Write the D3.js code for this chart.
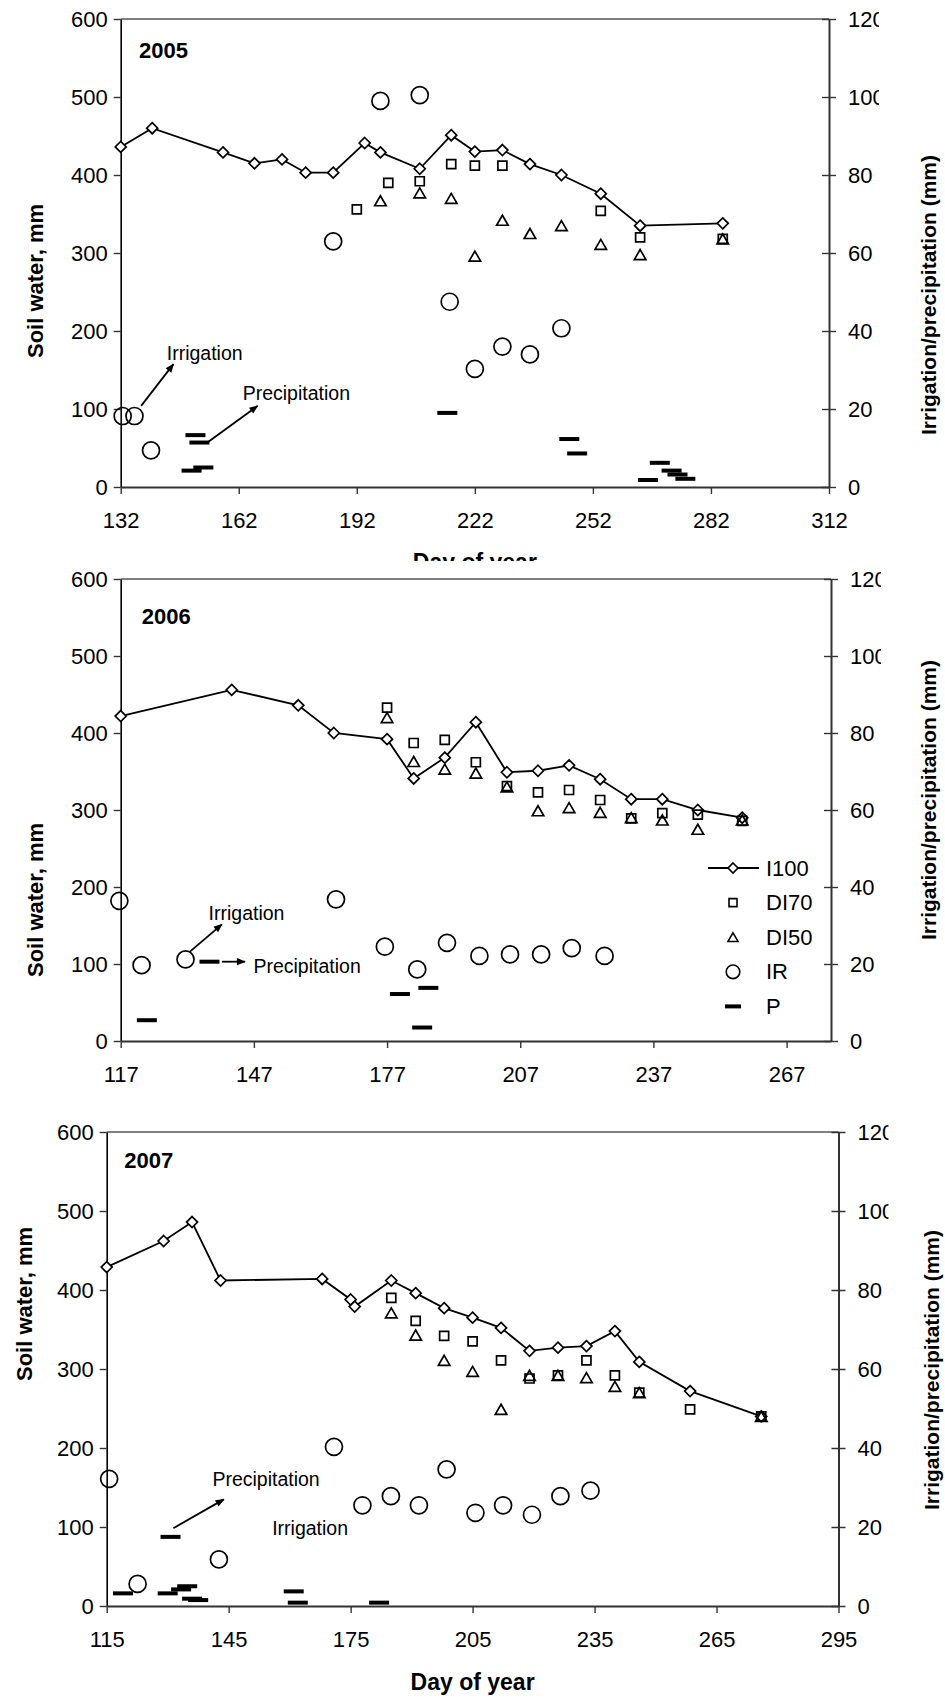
<!DOCTYPE html>
<html>
<head>
<meta charset="utf-8">
<script src="https://cdn.jsdelivr.net/npm/d3@7"></script>
<style>
  body { margin: 0; background: #fff; }
  svg { display: block; font-family: "Liberation Sans", Arial, sans-serif; }
</style>
</head>
<body>
<div id="chart"></div>
<script>
// ---- data: [day of year, value] ----
// soil water (mm), left axis
var i100_2005 = [[132,436],[140,460],[158,429],[166,415],[173,420],[179,403],[186,403],[194,441],[198,429],[208,408],[216,451],[222,430],[229,432],[236,414],[244,400],[254,376],[264,335],[285,338]];
var di70_2005 = [[192,356],[200,390],[208,392],[216,414],[222,412],[229,412],[254,354],[264,320],[285,318]];
var di50_2005 = [[198,367],[208,377],[216,370],[222,296],[229,342],[236,325],[244,335],[254,311],[264,298],[285,318]];
// irrigation / precipitation (mm), right axis
var ir_2005 = [[132.5,18.2],[135.5,18.2],[139.7,9.4],[186,63],[198,99],[208,100.5],[215.6,47.5],[222,30.3],[229,36],[236,34],[244,40.7]];
var p_2005 = [[151,13.3],[152,11.4],[150,4.2],[153,5],[215,19],[246,12.3],[248,8.6],[269,6.2],[272,4.2],[273.5,3.2],[275.5,2.1],[266,1.8]];

var i100_2006 = [[117,422],[142,456],[157,436],[165,400],[177,392],[183,341],[190,368],[197,414],[204,349],[211,351],[218,358],[225,340],[232,314],[239,314],[247,300],[257,290]];
var di70_2006 = [[177,433],[183,387],[190,391],[197,362],[204,331],[211,323],[218,326],[225,313],[232,289],[239,296],[247,294],[257,286]];
var di50_2006 = [[177,420],[183,363],[190,353],[197,348],[204,330],[211,299],[218,303],[225,297],[232,290],[239,287],[247,275],[257,287]];
var ir_2006 = [[116.7,36.4],[121.7,19.7],[131.6,21.2],[165.5,36.8],[176.5,24.5],[183.8,18.6],[190.5,25.5],[197.8,22.1],[204.7,22.5],[211.7,22.5],[218.6,24.1],[226,22.1]];
var p_2006 = [[122.9,5.4],[137,20.6],[179.9,12.2],[186.3,13.8],[184.9,3.5]];

var i100_2007 = [[115,429],[129,462],[136,486],[143,412],[168,414],[175,388],[176,379],[185,412],[191,396],[198,377],[205,365],[212,352],[219,323],[226,327],[233,329],[240,348],[246,309],[258.5,272],[276,240]];
var di70_2007 = [[185,390],[191,361],[198,342],[205,335],[212,311],[219,288],[226,292],[233,311],[240,292],[246,270],[258.5,249],[276,240]];
var di50_2007 = [[185,371],[191,343],[198,311],[205,297],[212,249],[219,292],[226,292],[233,289],[240,278],[246,270],[276,240]];
var ir_2007 = [[115.6,32.2],[122.6,5.6],[142.6,11.8],[170.9,40.3],[177.9,25.5],[184.9,27.8],[191.8,25.5],[198.6,34.6],[205.7,23.6],[212.5,25.5],[219.6,23.1],[226.6,27.8],[234,29.2]];
var p_2007 = [[119,3.2],[130.7,17.5],[130,3.2],[133.3,4.2],[134.8,5],[136,1.85],[137.5,1.5],[161,3.7],[162,0.85],[182,0.85]];

// tick labels
var xTicks_2005 = [132,162,192,222,252,282,312];
var xTicks_2006 = [117,147,177,207,237,267];
var xTicks_2007 = [115,145,175,205,235,265,295];
var yTicks = [0,100,200,300,400,500,600];
var y2Ticks = [0,20,40,60,80,100,120];

var legendNames = ["I100","DI70","DI50","IR","P"];

// annotations: text/arrow anchored in (day, right-axis mm)
var notes_2005 = [
  {text:"Irrigation", at:[143.7,32.6], from:[137.2,20.8], to:[145.4,31.5]},
  {text:"Precipitation", at:[163,22.3], from:[154.3,11.6], to:[166.8,20.8]}
];
var notes_2006 = [
  {text:"Irrigation", at:[136.8,31.4], from:[132.6,23.2], to:[139.8,30.3]},
  {text:"Precipitation", at:[146.9,17.7], from:[139.8,20.6], to:[145,20.6]}
];
var notes_2007 = [
  {text:"Precipitation", at:[141,30.4], from:[131.4,19.7], to:[143.8,27]},
  {text:"Irrigation", at:[155.7,17.9]}
];

var panels = [
  {year:"2005", i100:i100_2005, di70:di70_2005, di50:di50_2005, ir:ir_2005, p:p_2005, notes:notes_2005,
   xDomain:[132,312], xTicks:xTicks_2005, left:120.7, right:829, top:19, bottom:487,
   yearPos:[139,58], leftTitle:[35,281], rightTitle:[928,295], xTitleY:570, clipY:561},
  {year:"2006", i100:i100_2006, di70:di70_2006, di50:di50_2006, ir:ir_2006, p:p_2006, notes:notes_2006,
   xDomain:[117,277], xTicks:xTicks_2006, left:120.7, right:831, top:579, bottom:1041,
   yearPos:[141.7,624], leftTitle:[35,900], rightTitle:[928,800], legend:true},
  {year:"2007", i100:i100_2007, di70:di70_2007, di50:di50_2007, ir:ir_2007, p:p_2007, notes:notes_2007,
   xDomain:[115,295], xTicks:xTicks_2007, left:106.7, right:838.5, top:1132, bottom:1606,
   yearPos:[124.3,1168], leftTitle:[24,1304], rightTitle:[931,1370], xTitleY:1690}
];

var svg = d3.select("#chart").append("svg")
    .attr("width", 945)
    .attr("height", 1698);

var defs = svg.append("defs");
defs.append("marker")
    .attr("id", "arrow")
    .attr("viewBox", "0 0 10 10")
    .attr("refX", 9).attr("refY", 5)
    .attr("markerWidth", 10).attr("markerHeight", 9)
    .attr("markerUnits", "userSpaceOnUse")
    .attr("orient", "auto")
  .append("path")
    .attr("d", "M0,1L10,5L0,9Z")
    .attr("fill", "#000");

// marker shapes
function diamond(s) { return "M0," + (-s) + "L" + s + ",0L0," + s + "L" + (-s) + ",0Z"; }
function square(s) { return "M" + (-s) + "," + (-s) + "h" + (2*s) + "v" + (2*s) + "h" + (-2*s) + "Z"; }
function triangle(w, h) { return "M0," + (-h/2) + "L" + (w/2) + "," + (h/2) + "L" + (-w/2) + "," + (h/2) + "Z"; }

function drawPanel(p, idx) {
  var g = svg.append("g").attr("class", "panel");

  var x = d3.scaleLinear().domain(p.xDomain).range([p.left, p.right]);
  var y = d3.scaleLinear().domain([0, 600]).range([p.bottom, p.top]);
  var y2 = d3.scaleLinear().domain([0, 120]).range([p.bottom, p.top]);

  // top frame line
  g.append("line")
      .attr("x1", p.left).attr("x2", p.right)
      .attr("y1", p.top).attr("y2", p.top)
      .attr("stroke", "#808080").attr("stroke-width", 2);

  // left axis
  var ya = g.append("g")
      .attr("transform", "translate(" + p.left + ",0)")
      .call(d3.axisLeft(y).tickValues(yTicks).tickSize(7).tickSizeOuter(0).tickPadding(6));
  ya.select(".domain").attr("stroke", "#000").attr("stroke-width", 1.6);
  ya.selectAll(".tick line").attr("stroke", "#333").attr("stroke-width", 1.4);
  ya.selectAll(".tick text").style("font-size", "22px").attr("fill", "#000");

  // right axis (labels clipped a bit, like the original)
  defs.append("clipPath").attr("id", "rclip" + idx)
    .append("rect")
      .attr("x", p.right - 10).attr("y", p.top - 20)
      .attr("width", 60).attr("height", p.bottom - p.top + 40);
  var y2a = g.append("g")
      .attr("clip-path", "url(#rclip" + idx + ")")
    .append("g")
      .attr("transform", "translate(" + p.right + ",0)")
      .call(d3.axisRight(y2).tickValues(y2Ticks).tickSize(7).tickSizeOuter(0).tickPadding(12));
  y2a.select(".domain").attr("stroke", "#333").attr("stroke-width", 2);
  y2a.selectAll(".tick line").attr("x1", -7).attr("stroke", "#333").attr("stroke-width", 1.4);
  y2a.selectAll(".tick text").style("font-size", "22px").attr("fill", "#000");

  // bottom axis
  var xa = g.append("g")
      .attr("transform", "translate(0," + p.bottom + ")")
      .call(d3.axisBottom(x).tickValues(p.xTicks).tickSize(7).tickSizeOuter(0).tickPadding(18));
  xa.select(".domain").attr("stroke", "#333").attr("stroke-width", 2);
  xa.selectAll(".tick line").attr("stroke", "#333").attr("stroke-width", 1.4);
  xa.selectAll(".tick text").style("font-size", "22px").attr("fill", "#000");

  // axis titles
  g.append("text")
      .attr("transform", "translate(" + p.leftTitle[0] + "," + p.leftTitle[1] + ") rotate(-90)")
      .attr("text-anchor", "middle").attr("dominant-baseline", "central")
      .style("font-size", "22px").style("font-weight", "bold")
      .text("Soil water, mm");
  g.append("text")
      .attr("transform", "translate(" + p.rightTitle[0] + "," + p.rightTitle[1] + ") rotate(-90)")
      .attr("text-anchor", "middle").attr("dominant-baseline", "central")
      .style("font-size", "21px").style("font-weight", "bold")
      .text("Irrigation/precipitation (mm)");
  if (p.xTitleY) {
    var xt = g.append("text")
        .attr("x", (p.left + p.right) / 2).attr("y", p.xTitleY)
        .attr("text-anchor", "middle")
        .style("font-size", "23px").style("font-weight", "bold")
        .text("Day of year");
    if (p.clipY) {
      defs.append("clipPath").attr("id", "xclip" + idx)
        .append("rect").attr("x", 0).attr("y", 0).attr("width", 945).attr("height", p.clipY);
      xt.attr("clip-path", "url(#xclip" + idx + ")");
    }
  }

  // year
  g.append("text")
      .attr("x", p.yearPos[0]).attr("y", p.yearPos[1])
      .style("font-size", "22px").style("font-weight", "bold")
      .text(p.year);

  // I100 line + diamonds
  var line = d3.line()
      .x(function(d) { return x(d[0]); })
      .y(function(d) { return y(d[1]); });
  g.append("path")
      .datum(p.i100)
      .attr("d", line)
      .attr("fill", "none").attr("stroke", "#000").attr("stroke-width", 1.8);
  g.selectAll(".i100").data(p.i100).enter().append("path")
      .attr("class", "i100")
      .attr("transform", function(d) { return "translate(" + x(d[0]) + "," + y(d[1]) + ")"; })
      .attr("d", diamond(5.5))
      .attr("fill", "#fff").attr("stroke", "#000").attr("stroke-width", 1.7);

  g.selectAll(".di70").data(p.di70).enter().append("path")
      .attr("class", "di70")
      .attr("transform", function(d) { return "translate(" + x(d[0]) + "," + y(d[1]) + ")"; })
      .attr("d", square(4.5))
      .attr("fill", "none").attr("stroke", "#000").attr("stroke-width", 1.7);

  g.selectAll(".di50").data(p.di50).enter().append("path")
      .attr("class", "di50")
      .attr("transform", function(d) { return "translate(" + x(d[0]) + "," + y(d[1]) + ")"; })
      .attr("d", triangle(11.5, 10))
      .attr("fill", "none").attr("stroke", "#000").attr("stroke-width", 1.7);

  g.selectAll(".ir").data(p.ir).enter().append("circle")
      .attr("class", "ir")
      .attr("cx", function(d) { return x(d[0]); })
      .attr("cy", function(d) { return y2(d[1]); })
      .attr("r", 8.5)
      .attr("fill", "none").attr("stroke", "#000").attr("stroke-width", 1.7);

  g.selectAll(".pp").data(p.p).enter().append("rect")
      .attr("class", "pp")
      .attr("x", function(d) { return x(d[0]) - 10; })
      .attr("y", function(d) { return y2(d[1]) - 2; })
      .attr("width", 20).attr("height", 4)
      .attr("fill", "#000");

  // annotations
  p.notes.forEach(function(n) {
    g.append("text")
        .attr("x", x(n.at[0])).attr("y", y2(n.at[1]))
        .style("font-size", "19.5px")
        .text(n.text);
    if (n.from) {
      g.append("line")
          .attr("x1", x(n.from[0])).attr("y1", y2(n.from[1]))
          .attr("x2", x(n.to[0])).attr("y2", y2(n.to[1]))
          .attr("stroke", "#000").attr("stroke-width", 1.8)
          .attr("marker-end", "url(#arrow)");
    }
  });

  if (p.legend) drawLegend(g);
}

function drawLegend(g) {
  var lx = 733, ly = 868, step = 34.6, tx = 766;
  var lg = g.append("g").attr("class", "legend");
  legendNames.forEach(function(name, i) {
    var cy = ly + i * step;
    var row = lg.append("g").attr("transform", "translate(" + lx + "," + cy + ")");
    if (name === "I100") {
      row.append("line").attr("x1", -25).attr("x2", 26)
          .attr("stroke", "#000").attr("stroke-width", 1.8);
      row.append("path").attr("d", diamond(5))
          .attr("fill", "#fff").attr("stroke", "#000").attr("stroke-width", 1.6);
    } else if (name === "DI70") {
      row.append("path").attr("d", square(4))
          .attr("fill", "none").attr("stroke", "#000").attr("stroke-width", 1.6);
    } else if (name === "DI50") {
      row.append("path").attr("d", triangle(10, 8.5))
          .attr("fill", "none").attr("stroke", "#000").attr("stroke-width", 1.6);
    } else if (name === "IR") {
      row.append("circle").attr("r", 6.8)
          .attr("fill", "none").attr("stroke", "#000").attr("stroke-width", 1.6);
    } else {
      row.append("rect").attr("x", -8).attr("y", -2).attr("width", 16).attr("height", 4)
          .attr("fill", "#000");
    }
    lg.append("text")
        .attr("x", tx).attr("y", cy)
        .attr("dominant-baseline", "central")
        .style("font-size", "22px")
        .text(name);
  });
}

panels.forEach(drawPanel);
</script>
</body>
</html>
